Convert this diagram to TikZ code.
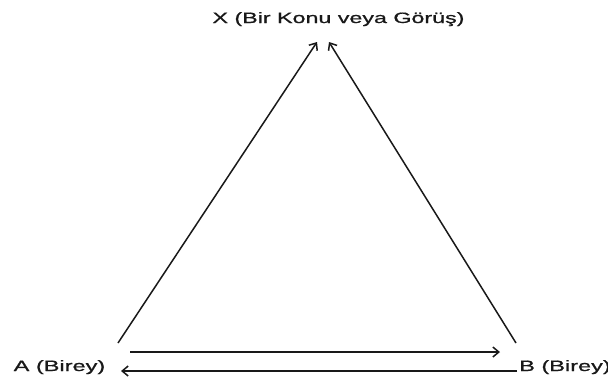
\documentclass[tikz,border=0pt]{standalone}
\usepackage{fontspec}
\setmainfont{Liberation Sans}
\newfontfamily\lblfont{Liberation Sans}[FakeBold=0.7]
\usetikzlibrary{arrows.meta}
\begin{document}
\begin{tikzpicture}[x=1pt,y=-1pt,
  lbl/.style={inner sep=0pt,anchor=base,text=black!90,font=\lblfont\fontsize{15}{18}\selectfont},
  conn/.style={line width=1.5pt,black!90,-{Straight Barb[length=6pt,width=10pt,line width=1.5pt]}}]
\useasboundingbox (0,0) rectangle (608,381);
\node[lbl] (X) at (338.5,23) {\scalebox{1.55}[1]{X (Bir Konu veya Görüş)}};
\node[lbl] (A) at (59.5,371) {\scalebox{1.57}[1]{A (Birey)}};
\node[lbl,anchor=base west] (B) at (519,371) {\scalebox{1.57}[1]{B (Birey)}};
\coordinate (aTop) at (118,343);
\coordinate (bTop) at (516,343);
\coordinate (xL) at (317,42);
\coordinate (xR) at (329,42);
\coordinate (aR) at (130,352);
\coordinate (bL) at (500,352);
\coordinate (bR) at (517,371);
\coordinate (aL) at (121,371);
\draw[conn] (aTop) -- (xL);
\draw[conn] (bTop) -- (xR);
\draw[conn] (aR) -- (bL);
\draw[conn] (bR) -- (aL);
\end{tikzpicture}
\end{document}
